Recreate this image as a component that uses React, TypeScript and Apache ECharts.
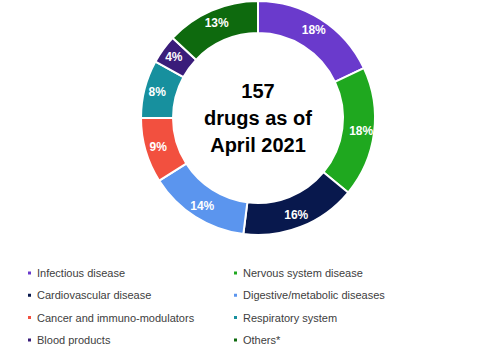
import React, { useEffect, useRef } from "react";
import * as echarts from "echarts";

const categories = [
  "Infectious disease",
  "Nervous system disease",
  "Cardiovascular disease",
  "Digestive/metabolic diseases",
  "Cancer and immuno-modulators",
  "Respiratory system",
  "Blood products",
  "Others*",
];
const shares = [18, 18, 16, 14, 9, 8, 4, 13];
const colors = ["#6a3acc", "#1fa81f", "#08184d", "#5b95ee", "#f2503f", "#17909e", "#3a1d7a", "#0e6a0e"];
const leftColumn = [categories[0], categories[2], categories[4], categories[6]];
const rightColumn = [categories[1], categories[3], categories[5], categories[7]];
const centerText = ["157", "drugs as of", "April 2021"];

export default function App() {
  const ref = useRef<HTMLDivElement>(null);
  useEffect(() => {
    const chart = echarts.init(ref.current!, null, { renderer: "svg" });
    const legendBase = {
      orient: "vertical",
      top: 261,
      icon: "rect",
      itemWidth: 5,
      itemHeight: 5,
      itemGap: 8.3,
      selectedMode: false,
      textStyle: {
        fontFamily: "Liberation Sans",
        fontSize: 11,
        color: "#404040",
        lineHeight: 14,
      },
    };
    chart.setOption({
      animation: false,
      color: colors,
      legend: [
        { ...legendBase, left: 21, data: leftColumn },
        { ...legendBase, left: 227, data: rightColumn },
      ],
      graphic: [
        {
          type: "text",
          x: 258,
          y: 118,
          style: {
            text: centerText.join("\n"),
            fontFamily: "Liberation Sans",
            fontWeight: "bold",
            fontSize: 20,
            lineHeight: 27,
            fill: "#000",
            align: "center",
            verticalAlign: "middle",
          },
        },
      ],
      series: [
        {
          type: "pie",
          center: [258, 118],
          radius: [85, 117],
          startAngle: 90,
          clockwise: true,
          avoidLabelOverlap: false,
          itemStyle: { borderColor: "#fff", borderWidth: 2 },
          label: {
            show: true,
            position: "inside",
            formatter: "{c}%",
            color: "#fff",
            fontFamily: "Liberation Sans",
            fontWeight: "bold",
            fontSize: 12,
          },
          labelLine: { show: false },
          emphasis: { disabled: true },
          data: categories.map((name, i) => ({ name, value: shares[i] })),
        },
      ],
    });
    return () => chart.dispose();
  }, []);
  return <div ref={ref} style={{ width: 492, height: 360, position: "absolute", left: 0, top: 0 }} />;
}
